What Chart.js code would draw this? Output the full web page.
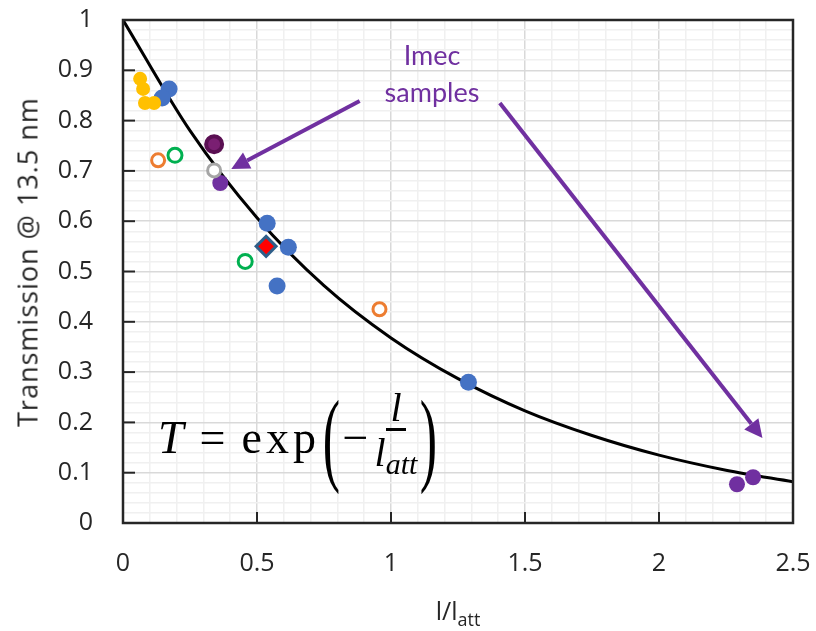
<!DOCTYPE html>
<html>
<head>
<meta charset="utf-8">
<script src="https://cdn.jsdelivr.net/npm/chart.js@4"></script>
<style>
  body { margin: 0; background: #fff; }
  #wrap { position: relative; width: 816px; height: 631px; }
  #grafica { position: absolute; left: 0; top: 0; }
  .txt { position: absolute; font-family: 'Open Sans', sans-serif; color: #262626; white-space: nowrap; }
  #ytitle { left: 27px; top: 262px; font-size: 27px; letter-spacing: 1px; transform: translate(-50%, -50%) rotate(-90deg); }
  #xtitle { left: 458px; top: 612px; font-size: 25px; transform: translate(-50%, -50%); }
  #xtitle sub { font-size: 18px; vertical-align: -6px; }
  #imec { left: 432px; top: 36px; font-family: Lato, sans-serif; font-size: 27px; color: #7030A0; text-align: center; line-height: 37px; transform: translateX(-50%); }
  #eq { position: absolute; left: 158px; top: 392px; height: 90px; font-family: 'Liberation Serif', 'DejaVu Serif', serif; font-size: 46px; color: #000; display: flex; align-items: center; white-space: nowrap; }
  #eq .op { margin: 0 16px; }
  #eq .exp { letter-spacing: 4px; }
  #eq .par { font-size: 104px; font-weight: 100; transform: scaleX(0.5); display: inline-block; line-height: 90px; margin: 0 -6px 0 -6px; }
  #eq .frac { display: inline-flex; flex-direction: column; align-items: center; margin-left: 6px; }
  #eq .num { border-bottom: 3px solid #000; padding: 0 4px; line-height: 40px; font-size: 40px; }
  #eq .den { line-height: 44px; font-size: 40px; }
  #eq .den sub { font-size: 30px; vertical-align: -8px; }
</style>
</head>
<body>
<div id="wrap">
  <canvas id="grafica" width="816" height="631"></canvas>
  <div class="txt" id="ytitle">Transmission @ 13.5 nm</div>
  <div class="txt" id="xtitle">l/l<sub>att</sub></div>
  <div class="txt" id="imec">Imec<br>samples</div>
  <div id="eq"><i>T</i><span class="op">=</span><span class="exp">exp</span><span class="par">(</span>&minus;<span class="frac"><span class="num"><i>l</i></span><span class="den"><i>l<sub>att</sub></i></span></span><span class="par">)</span></div>
</div>
<script>
// curva T = exp(-l/latt)
const curvaX = [0, 0.25, 0.5, 0.75, 1, 1.25, 1.5, 1.75, 2, 2.25, 2.5];
const curvaT = [1, 0.78, 0.607, 0.472, 0.368, 0.287, 0.223, 0.174, 0.135, 0.105, 0.082];

// muestras
const amarilloX = [0.064, 0.075, 0.082, 0.116];
const amarilloY = [0.883, 0.863, 0.835, 0.835];
const azulX = [0.172, 0.146, 0.538, 0.617, 0.575, 1.289];
const azulY = [0.863, 0.845, 0.596, 0.548, 0.471, 0.280];
const romboX = [0.534];
const romboY = [0.550];
const verdeX = [0.194, 0.456];
const verdeY = [0.731, 0.520];
const naranjaX = [0.131, 0.957];
const naranjaY = [0.721, 0.425];
const grisX = [0.340];
const grisY = [0.701];
const moradoOscuroX = [0.340];
const moradoOscuroY = [0.753];
const moradoX = [0.363, 2.291, 2.351];
const moradoY = [0.676, 0.077, 0.091];

// flechas "Imec samples" (inicio -> punta, en unidades de los ejes)
const flechas = [
  { x0: 0.883, y0: 0.839, x1: 0.404, y1: 0.704 },
  { x0: 1.406, y0: 0.835, x1: 2.386, y1: 0.169 }
];

const xTicksMostrar = [0, 0.5, 1, 1.5, 2, 2.5];

function puntos(xs, ys) {
  return xs.map((x, i) => ({ x: x, y: ys[i] }));
}
function esMultiplo(v, paso) {
  return Math.abs(v / paso - Math.round(v / paso)) < 1e-6;
}

const morado = '#7030A0';

const pluginMarco = {
  id: 'marco',
  afterDraw(chart) {
    const ctx = chart.ctx;
    const a = chart.chartArea;
    const sx = chart.scales.x, sy = chart.scales.y;
    ctx.save();
    ctx.strokeStyle = '#262626';
    ctx.lineWidth = 2.5;
    ctx.strokeRect(a.left, a.top, a.right - a.left, a.bottom - a.top);
    // marcas hacia dentro
    ctx.lineWidth = 2;
    for (let i = 0; i <= 10; i++) {
      const py = sy.getPixelForValue(i / 10);
      ctx.beginPath(); ctx.moveTo(a.left, py); ctx.lineTo(a.left + 12, py); ctx.stroke();
    }
    for (const v of xTicksMostrar) {
      const px = sx.getPixelForValue(v);
      ctx.beginPath(); ctx.moveTo(px, a.bottom); ctx.lineTo(px, a.bottom - 11); ctx.stroke();
    }
    // flechas
    ctx.strokeStyle = morado;
    ctx.fillStyle = morado;
    ctx.lineWidth = 4;
    for (const f of flechas) {
      const x0 = sx.getPixelForValue(f.x0), y0 = sy.getPixelForValue(f.y0);
      const x1 = sx.getPixelForValue(f.x1), y1 = sy.getPixelForValue(f.y1);
      const ang = Math.atan2(y1 - y0, x1 - x0);
      const largo = 18, ancho = 9;
      const bx = x1 - largo * Math.cos(ang), by = y1 - largo * Math.sin(ang);
      ctx.beginPath(); ctx.moveTo(x0, y0); ctx.lineTo(bx, by); ctx.stroke();
      ctx.beginPath();
      ctx.moveTo(x1, y1);
      ctx.lineTo(bx + ancho * Math.sin(ang), by - ancho * Math.cos(ang));
      ctx.lineTo(bx - ancho * Math.sin(ang), by + ancho * Math.cos(ang));
      ctx.closePath();
      ctx.fill();
    }
    ctx.restore();
  }
};

const fuenteTicks = { family: "'Open Sans', sans-serif", size: 25 };

new Chart(document.getElementById('grafica').getContext('2d'), {
  type: 'scatter',
  data: {
    datasets: [
      { label: 'curva', type: 'line', data: puntos(curvaX, curvaT), borderColor: '#000', borderWidth: 3,
        pointRadius: 0, cubicInterpolationMode: 'monotone', fill: false, order: 10 },
      { label: 'amarillo', data: puntos(amarilloX, amarilloY), backgroundColor: '#FFC000', borderWidth: 0, pointRadius: 7 },
      { label: 'azul', data: puntos(azulX, azulY), backgroundColor: '#4472C4', borderWidth: 0, pointRadius: 8.5 },
      { label: 'rombo', data: puntos(romboX, romboY), pointStyle: 'rectRot', backgroundColor: '#FF0000', borderColor: '#2E5F8A', borderWidth: 3, pointRadius: 10 },
      { label: 'verde', data: puntos(verdeX, verdeY), backgroundColor: '#fff', borderColor: '#00B050', borderWidth: 3, pointRadius: 7 },
      { label: 'naranja', data: puntos(naranjaX, naranjaY), backgroundColor: '#fff', borderColor: '#ED7D31', borderWidth: 3, pointRadius: 6.5 },
      { label: 'gris', data: puntos(grisX, grisY), backgroundColor: '#fff', borderColor: '#A6A6A6', borderWidth: 3, pointRadius: 6.5 },
      { label: 'moradoOscuro', data: puntos(moradoOscuroX, moradoOscuroY), backgroundColor: '#7A1F72', borderColor: '#5A0F52', borderWidth: 4, pointRadius: 8 },
      { label: 'morado', data: puntos(moradoX, moradoY), backgroundColor: morado, borderWidth: 0, pointRadius: 8 }
    ]
  },
  options: {
    responsive: false,
    animation: false,
    layout: { padding: { left: 0, top: 20, right: 23, bottom: 0 } },
    plugins: { legend: { display: false }, tooltip: { enabled: false } },
    scales: {
      x: {
        type: 'linear', min: 0, max: 2.5,
        afterFit: s => { s.height = 108; s.paddingLeft = 0; s.paddingRight = 0; },
        border: { display: false },
        grid: {
          drawTicks: false,
          color: c => esMultiplo(c.tick.value, 0.5) ? '#D9D9D9' : '#F0F0F0',
          lineWidth: 1.5
        },
        ticks: {
          stepSize: 0.1, padding: 26, color: '#262626', font: fuenteTicks, maxRotation: 0, autoSkip: false,
          callback: v => esMultiplo(v, 0.5) ? String(Math.round(v * 10) / 10) : ''
        }
      },
      y: {
        type: 'linear', min: 0, max: 1,
        afterFit: s => { s.width = 123; s.paddingTop = 0; s.paddingBottom = 0; },
        border: { display: false },
        grid: {
          drawTicks: false,
          color: c => esMultiplo(c.tick.value, 0.1) ? '#D9D9D9' : '#F0F0F0',
          lineWidth: 1.5
        },
        ticks: {
          stepSize: 0.02, padding: 30, color: '#262626', font: fuenteTicks, autoSkip: false,
          callback: v => esMultiplo(v, 0.1) ? String(Math.round(v * 10) / 10) : ''
        }
      }
    }
  },
  plugins: [pluginMarco]
});
</script>
</body>
</html>
